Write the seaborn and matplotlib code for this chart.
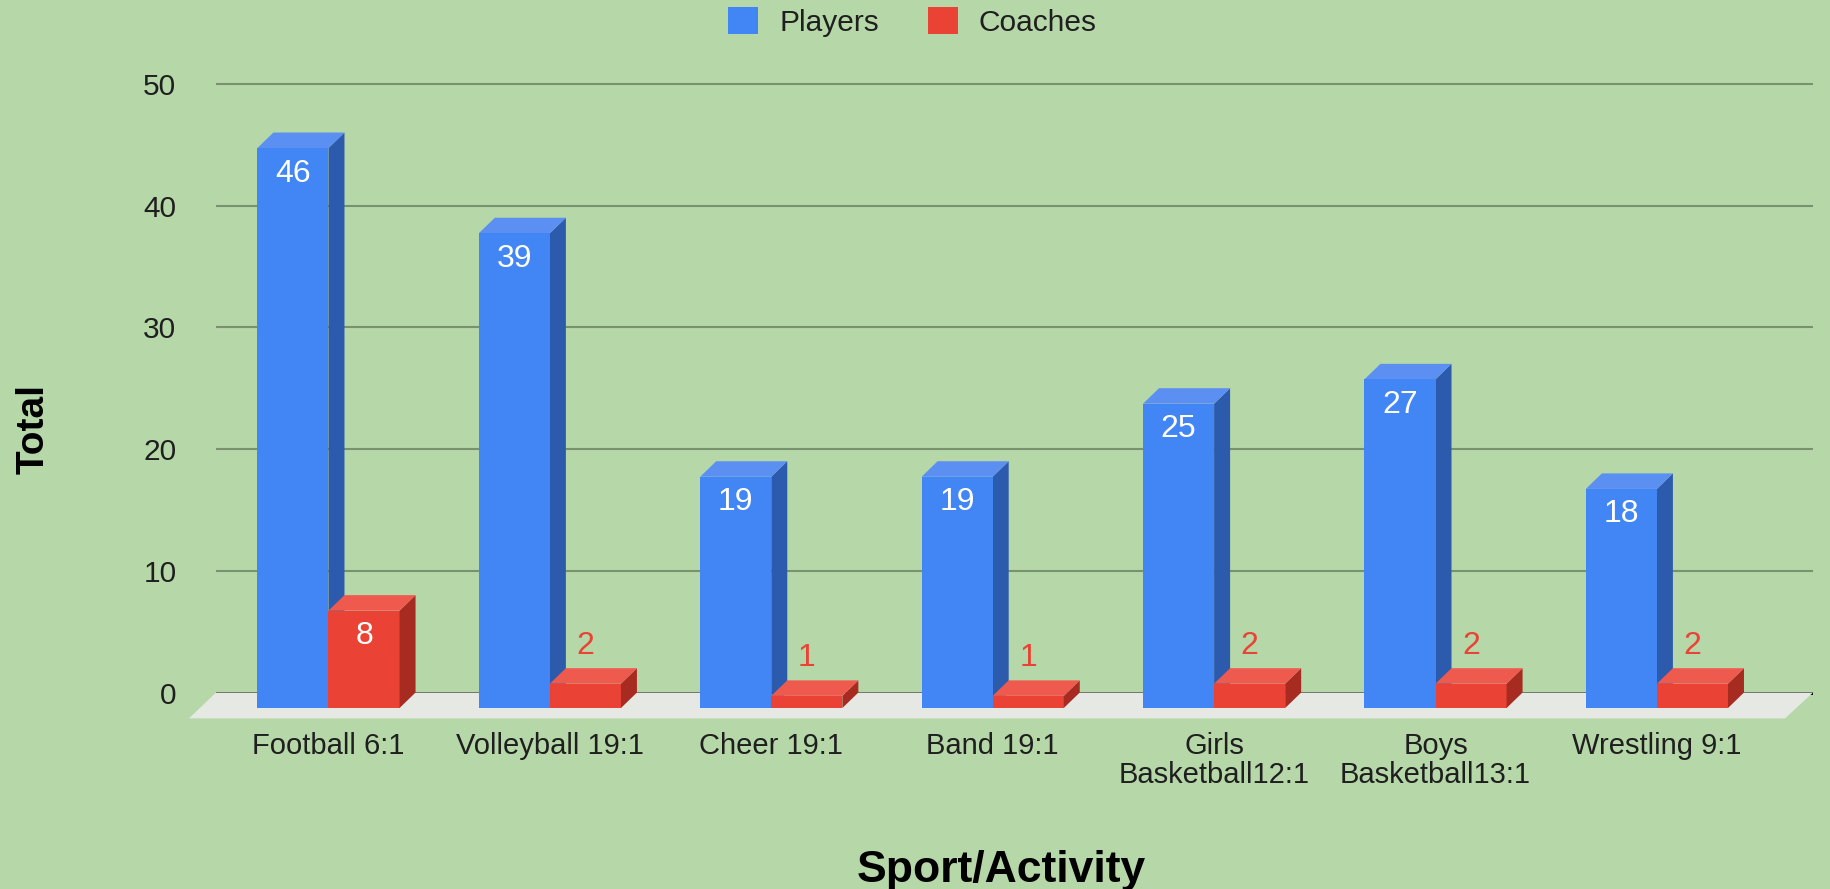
import matplotlib
matplotlib.use("Agg")
import matplotlib.pyplot as plt
import pandas as pd
import seaborn as sns
from matplotlib.patches import Polygon

# Chart data
sports = ["Football 6:1", "Volleyball 19:1", "Cheer 19:1", "Band 19:1",
          "Girls\nBasketball12:1", "Boys\nBasketball13:1", "Wrestling 9:1"]
players = [46, 39, 19, 19, 25, 27, 18]
coaches = [8, 2, 1, 1, 2, 2, 2]
series = ["Players", "Coaches"]
y_ticks = [0, 10, 20, 30, 40, 50]

# Colours
BG = "#b6d7a8"
BLUE, BLUE_SIDE, BLUE_TOP = "#4285f4", "#2c5aad", "#5b90f2"
RED, RED_SIDE, RED_TOP = "#ea4335", "#a82b21", "#ee5a4d"
GRID = "#77926c"
TEXT = "#1f1f1f"

sns.set_style("white")
plt.rcParams["font.family"] = ["Liberation Sans", "DejaVu Sans"]

W, H = 1831, 889
fig = plt.figure(figsize=(W / 100, H / 100), dpi=100, facecolor=BG)
ax = fig.add_axes([216 / W, 170 / H, 1597 / W, 644 / H])
ax.set_facecolor(BG)

df = pd.DataFrame({
    "Sport": sports * 2,
    "Count": players + coaches,
    "Group": ["Players"] * len(sports) + ["Coaches"] * len(sports),
})

sns.barplot(data=df, x="Sport", y="Count", hue="Group", hue_order=series,
            palette=[BLUE, RED], saturation=1, width=0.642, errorbar=None,
            edgecolor="none", linewidth=0, ax=ax)

# pseudo-3D depth offsets (data units)
DX = 16 / 221.4
DY = 15.5 / 12.17
XL, XR = -0.508, 6.705

# back-wall gridlines and baseline
for v in y_ticks:
    ax.axhline(v + DY, color="black" if v == 0 else GRID,
               lw=2.0 if v == 0 else 1.5, zorder=0.6 if v == 0 else 0.5)

# floor
floor = Polygon([(XL, DY), (XR, DY), (XR - 28 / 221.4, -0.85), (XL - 27 / 221.4, -0.85)],
                closed=True, facecolor="#e6e9e3", edgecolor="none", zorder=1, clip_on=False)
ax.add_patch(floor)

faces = {"Players": (BLUE_SIDE, BLUE_TOP, 2.5, 3),
         "Coaches": (RED_SIDE, RED_TOP, 4, 4)}
for container, name in zip(ax.containers, series):
    side_c, top_c, z_back, z_front = faces[name]
    for bar in container:
        x0, w, h = bar.get_x(), bar.get_width(), bar.get_height()
        bar.set_zorder(z_front)
        side = Polygon([(x0 + w, 0), (x0 + w + DX, DY), (x0 + w + DX, h + DY), (x0 + w, h)],
                       closed=True, facecolor=side_c, edgecolor="none", zorder=z_back)
        top = Polygon([(x0, h), (x0 + DX, h + DY), (x0 + w + DX, h + DY), (x0 + w, h)],
                      closed=True, facecolor=top_c, edgecolor="none", zorder=z_back)
        ax.add_patch(side)
        ax.add_patch(top)
        cx = x0 + w / 2
        if h >= 5:
            ax.text(cx, h - 2.1, f"{h:g}", color="white", ha="center", va="center",
                    fontsize=23, zorder=6)
        else:
            ax.text(cx, h + 3.1, f"{h:g}", color=RED, ha="center", va="center",
                    fontsize=23, zorder=6)

ax.set_xlim(XL, XR)
ax.set_ylim(-0.9, 52)

ax.set_yticks([v + DY for v in y_ticks])
ax.set_yticklabels([str(v) for v in y_ticks])
ax.set_xticks(range(len(sports)))
ax.set_xticklabels(sports)
for t in ax.get_xticklabels():
    t.set_linespacing(1.05)
ax.tick_params(axis="y", length=0, pad=28.5, labelsize=21.5, labelcolor=TEXT)
ax.tick_params(axis="x", length=0, pad=9, labelsize=21, labelcolor=TEXT)

for s in ax.spines.values():
    s.set_visible(False)

ax.set_xlabel("Sport/Activity", fontsize=32, fontweight="bold", color="black", va="center")
ax.xaxis.set_label_coords(0.492, -0.2345)
ax.set_ylabel("Total", fontsize=28, fontweight="bold", color="black", va="center")
ax.yaxis.set_label_coords((34 - 216) / 1597, 0.450)

handles, labels = ax.get_legend_handles_labels()
if ax.get_legend() is not None:
    ax.get_legend().remove()
leg = fig.legend(handles, labels, loc="center", bbox_to_anchor=(0.4984, 0.975), ncol=2,
                 frameon=False, fontsize=21.5, handlelength=1.0, handleheight=1.0,
                 handletextpad=0.7, columnspacing=1.65)
for t in leg.get_texts():
    t.set_color(TEXT)

fig.savefig("out.png", dpi=100, facecolor=BG)
